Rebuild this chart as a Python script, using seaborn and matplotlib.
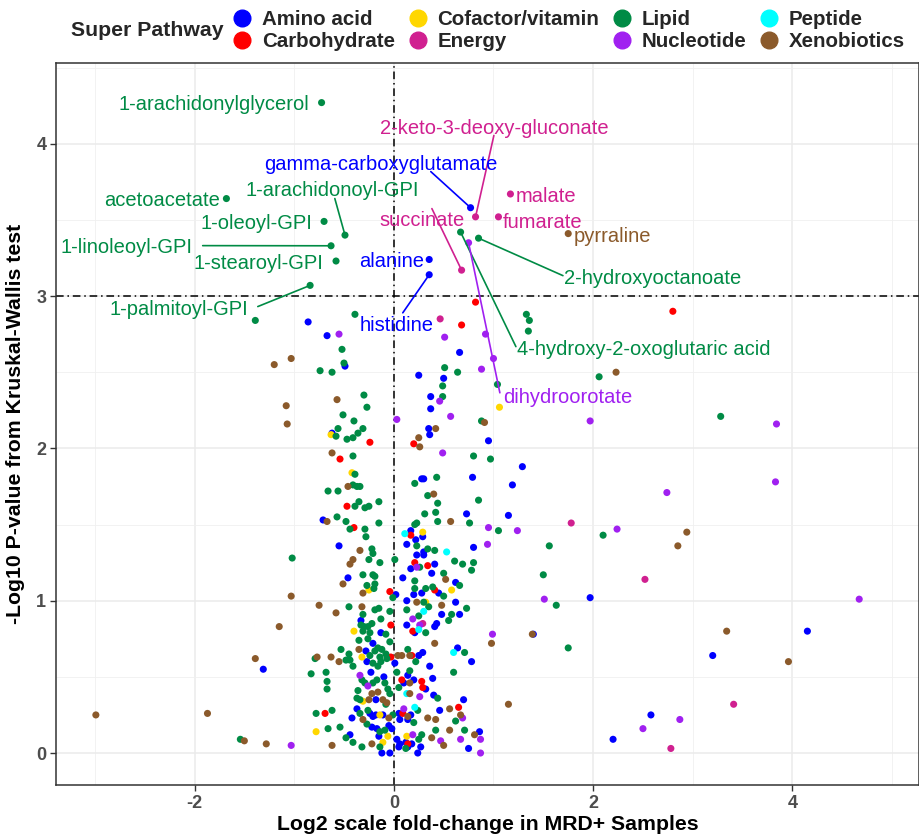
import matplotlib
matplotlib.use("Agg")
import matplotlib.pyplot as plt
from matplotlib.lines import Line2D
import seaborn as sns
import pandas as pd

pathways = ["Amino acid", "Carbohydrate", "Cofactor/vitamin", "Energy",
            "Lipid", "Nucleotide", "Peptide", "Xenobiotics"]
colors = ["#0000FF", "#FF0000", "#FFD700", "#D02090",
          "#008B45", "#A020F0", "#00FFFF", "#8B5A2B"]

# (log2 fold change, -log10 p), per super pathway
amino_acid = [
    (-0.86, 2.83), (-0.67, 2.74), (-0.49, 2.54), (-0.62, 2.10), (0.66, 2.63), (0.25, 2.48),
    (0.50, 2.46), (0.37, 2.34), (0.37, 2.26), (0.35, 2.13), (0.36, 2.09), (0.95, 2.05),
    (1.29, 1.88), (1.19, 1.76), (1.15, 1.56), (1.97, 1.02), (1.40, 0.78), (4.15, 0.80),
    (3.20, 0.64), (2.58, 0.25), (2.20, 0.09), (-1.31, 0.55), (0.28, 1.80), (0.30, 1.80),
    (0.79, 1.81), (0.73, 1.57), (-0.71, 1.53), (0.17, 1.46), (0.29, 1.42), (0.22, 1.40),
    (0.13, 1.37), (0.80, 1.35), (-0.55, 1.36), (0.30, 1.32), (0.30, 1.30), (0.23, 1.30),
    (0.41, 1.24), (0.17, 1.21), (0.38, 1.18), (-0.46, 1.15), (0.09, 1.15), (0.62, 1.12),
    (0.45, 1.05), (0.02, 1.04), (0.20, 1.04), (0.28, 1.05), (0.13, 1.00), (0.62, 0.99),
    (-0.33, 0.87), (0.48, 0.91), (0.66, 0.91), (0.43, 0.85), (0.41, 0.83), (0.13, 0.84),
    (0.21, 0.79), (-0.13, 0.79), (-0.21, 0.72), (-0.28, 0.67), (-0.27, 0.60), (0.01, 0.59),
    (-0.23, 0.53), (0.64, 0.69), (0.78, 0.60), (0.29, 0.66), (0.25, 0.64), (0.36, 0.57),
    (0.14, 0.51), (-0.10, 0.50), (-0.18, 0.35), (0.10, 0.46), (0.20, 0.48), (0.39, 0.49),
    (0.32, 0.42), (0.40, 0.38), (-0.37, 0.29), (-0.24, 0.26), (-0.18, 0.25), (-0.42, 0.23),
    (-0.21, 0.24), (-0.11, 0.25), (0.05, 0.26), (0.17, 0.25), (0.46, 0.28), (0.70, 0.35),
    (0.14, 0.22), (0.06, 0.22), (-0.22, 0.17), (-0.17, 0.16), (-0.05, 0.18), (-0.02, 0.16),
    (0.75, 0.03), (0.86, 0.14), (-0.12, 0.00), (-0.04, 0.00), (0.05, 0.04), (0.14, 0.04),
    (0.24, 0.00), (-0.44, 0.12), (-0.15, 0.11), (0.03, 0.09), (0.06, 0.06), (0.12, 0.07),
    (0.18, 0.06), (0.27, 0.04),
]
carbohydrate = [
    (0.68, 2.81), (0.82, 2.96), (-0.24, 2.04), (0.20, 2.03), (2.80, 2.90), (-0.54, 1.93),
    (-0.47, 1.62), (-0.40, 1.48), (0.17, 1.43), (0.21, 1.25), (0.34, 1.23), (0.41, 1.07),
    (-0.04, 1.06), (-0.03, 0.84), (0.19, 0.80), (-0.03, 0.63), (0.18, 0.64), (0.08, 0.48),
    (0.28, 0.47), (0.29, 0.43), (-0.69, 0.26), (0.09, 0.26), (0.65, 0.30), (0.14, 0.06),
]
cofactor_vitamin = [
    (-0.63, 2.09), (1.06, 2.27), (-0.42, 1.84), (0.29, 1.45), (-0.25, 1.07), (0.58, 1.07),
    (0.32, 0.99), (-0.40, 0.80), (-0.32, 0.63), (-0.31, 0.34), (-0.14, 0.25), (-0.78, 0.14),
    (-0.06, 0.11), (-0.11, 0.07), (0.13, 0.11),
]
energy = [
    (0.465, 2.85), (1.78, 1.51), (2.52, 1.14), (3.41, 0.32), (2.78, 0.03), (0.29, 0.85),
]
lipid = [
    (-1.39, 2.84), (-0.39, 2.88), (1.33, 2.88), (1.36, 2.84), (1.35, 2.77), (-0.52, 2.65),
    (-0.50, 2.56), (-0.74, 2.51), (-0.62, 2.50), (-0.30, 2.35), (-0.27, 2.27), (-0.51, 2.22),
    (-0.40, 2.18), (-0.56, 2.13), (-0.58, 2.08), (-0.47, 2.06), (-0.41, 2.07), (-0.36, 2.10),
    (-0.31, 2.13), (0.51, 2.53), (0.64, 2.50), (0.49, 2.41), (0.49, 2.34), (1.04, 2.42),
    (0.88, 2.18), (2.06, 2.47), (3.28, 2.21), (2.10, 1.43), (1.56, 1.36), (1.50, 1.17),
    (1.63, 0.97), (1.75, 0.69), (-1.02, 1.28), (-1.54, 0.09), (-0.41, 1.95), (0.80, 1.95),
    (0.97, 1.93), (-0.39, 1.83), (0.43, 1.81), (0.21, 1.77), (-0.41, 1.76), (-0.37, 1.75),
    (-0.34, 1.75), (-0.66, 1.72), (-0.56, 1.72), (0.34, 1.69), (0.44, 1.64), (0.85, 1.66),
    (-0.15, 1.65), (-0.35, 1.65), (-0.39, 1.62), (-0.29, 1.61), (-0.25, 1.62), (0.31, 1.57),
    (0.42, 1.58), (-0.57, 1.55), (-0.48, 1.52), (-0.15, 1.51), (0.21, 1.50), (0.23, 1.51),
    (0.44, 1.52), (0.76, 1.51), (1.05, 1.46), (-0.44, 1.47), (-0.29, 1.47), (-0.28, 1.42),
    (0.23, 1.36), (0.34, 1.34), (0.41, 1.33), (-0.22, 1.34), (-0.21, 1.31), (-0.25, 1.27),
    (-0.14, 1.25), (0.01, 1.27), (0.26, 1.22), (0.61, 1.26), (0.69, 1.24), (0.80, 1.25),
    (0.78, 1.20), (0.50, 1.18), (-0.31, 1.17), (-0.21, 1.17), (-0.19, 1.16), (0.21, 1.13),
    (0.66, 1.10), (-0.27, 1.10), (-0.19, 1.11), (-0.20, 1.08), (0.21, 1.08), (0.32, 1.08),
    (0.39, 1.09), (0.50, 1.03), (-0.01, 1.02), (0.30, 0.99), (0.35, 0.96), (0.73, 0.95),
    (-0.45, 0.96), (-0.15, 0.95), (-0.19, 0.94), (-0.04, 0.93), (-0.31, 0.91), (-0.13, 0.88),
    (-0.33, 0.84), (-0.30, 0.83), (-0.26, 0.83), (-0.22, 0.85), (0.13, 0.94), (0.25, 0.90),
    (0.58, 0.91), (0.55, 0.87), (0.32, 0.79), (-0.31, 0.80), (-0.24, 0.79), (-0.08, 0.78),
    (-0.35, 0.74), (-0.26, 0.75), (-0.04, 0.73), (-0.16, 0.69), (-0.53, 0.68), (-0.45, 0.65),
    (-0.44, 0.61), (-0.19, 0.67), (-0.12, 0.68), (-0.08, 0.65), (-0.24, 0.64), (-0.14, 0.63),
    (-0.07, 0.62), (-0.79, 0.62), (-0.48, 0.61), (-0.21, 0.59), (-0.13, 0.60), (-0.16, 0.57),
    (-0.41, 0.57), (-0.68, 0.53), (-0.83, 0.52), (0.71, 0.66), (0.14, 0.68), (0.22, 0.60),
    (0.03, 0.53), (0.16, 0.54), (0.60, 0.53), (-0.67, 0.47), (-0.67, 0.42), (-0.32, 0.48),
    (-0.29, 0.46), (-0.21, 0.46), (-0.17, 0.48), (-0.09, 0.46), (-0.06, 0.42), (-0.04, 0.39),
    (-0.36, 0.41), (-0.34, 0.35), (-0.37, 0.36), (0.05, 0.43), (0.44, 0.36), (-0.62, 0.28),
    (-0.78, 0.26), (-0.34, 0.26), (-0.26, 0.28), (-0.08, 0.32), (0.24, 0.28), (-0.01, 0.25),
    (0.62, 0.21), (0.20, 0.20), (-0.66, 0.16), (-0.54, 0.17), (-0.27, 0.19), (-0.14, 0.14),
    (-0.09, 0.15), (0.42, 0.15), (0.71, 0.15), (-0.32, 0.04), (-0.14, 0.04), (-0.48, 0.10),
    (-0.41, 0.07), (0.28, 0.12), (0.25, 0.09), (0.12, 0.03),
]
nucleotide = [
    (-0.55, 2.75), (0.51, 2.73), (0.92, 2.75), (1.00, 2.59), (0.88, 2.52), (0.46, 2.31),
    (0.03, 2.19), (0.57, 2.21), (1.97, 2.18), (3.84, 2.16), (2.74, 1.71), (3.83, 1.78),
    (1.24, 1.46), (2.24, 1.47), (1.51, 1.01), (4.67, 1.01), (2.87, 0.22), (2.50, 0.16),
    (-1.03, 0.05), (0.49, 1.97), (0.95, 1.48), (0.94, 1.37), (0.23, 1.22), (0.19, 0.88),
    (0.26, 0.84), (0.99, 0.78), (-0.34, 0.51), (-0.26, 0.44), (0.26, 0.37), (0.10, 0.29),
    (0.69, 0.23), (0.47, 0.08), (0.67, 0.09), (0.87, 0.09), (0.87, 0.00), (0.19, 0.12),
]
peptide = [
    (0.11, 1.44), (0.53, 1.32), (0.30, 0.93), (0.25, 0.81), (0.60, 0.66), (0.13, 0.39),
    (0.21, 0.30),
]
xenobiotics = [
    (-0.57, 2.32), (0.91, 2.17), (0.42, 2.13), (0.25, 2.07), (0.26, 2.01), (2.23, 2.50),
    (-1.03, 2.59), (-1.20, 2.55), (-1.08, 2.28), (-1.07, 2.16), (2.94, 1.45), (2.85, 1.36),
    (1.39, 0.78), (3.34, 0.80), (3.96, 0.60), (1.15, 0.32), (-1.03, 1.03), (-1.15, 0.83),
    (-1.39, 0.62), (-2.99, 0.25), (-1.87, 0.26), (-1.50, 0.08), (-1.28, 0.06), (-0.62, 1.97),
    (-0.46, 1.75), (0.40, 1.70), (-0.67, 1.52), (0.57, 1.52), (-0.34, 1.33), (-0.41, 1.27),
    (-0.44, 1.24), (-0.51, 1.11), (0.52, 1.14), (-0.31, 1.05), (0.23, 0.99), (0.48, 0.97),
    (-0.75, 0.97), (-0.32, 0.96), (-0.58, 0.92), (0.98, 0.72), (-0.35, 0.68), (-0.63, 0.63),
    (-0.55, 0.60), (-0.77, 0.63), (0.41, 0.72), (0.08, 0.64), (0.16, 0.64), (0.04, 0.64),
    (-0.22, 0.39), (-0.16, 0.40), (-0.25, 0.35), (-0.11, 0.35), (-0.07, 0.33), (0.16, 0.46),
    (0.16, 0.39), (-0.31, 0.22), (-0.05, 0.23), (0.14, 0.24), (0.56, 0.29), (0.67, 0.25),
    (0.34, 0.23), (0.42, 0.22), (0.38, 0.10), (0.50, 0.05), (0.56, 0.15), (0.81, 0.12),
    (-0.62, 0.05), (-0.22, 0.06),
]

# named metabolites: name, pathway, log2 fold change, -log10 p
named = [
    ("1-arachidonylglycerol", "Lipid", -0.725, 4.27),
    ("acetoacetate", "Lipid", -1.68, 3.64),
    ("1-oleoyl-GPI", "Lipid", -0.70, 3.49),
    ("1-arachidonoyl-GPI", "Lipid", -0.49, 3.40),
    ("1-linoleoyl-GPI", "Lipid", -0.63, 3.33),
    ("1-stearoyl-GPI", "Lipid", -0.58, 3.23),
    ("1-palmitoyl-GPI", "Lipid", -0.84, 3.07),
    ("alanine", "Amino acid", 0.355, 3.24),
    ("histidine", "Amino acid", 0.355, 3.14),
    ("gamma-carboxyglutamate", "Amino acid", 0.77, 3.58),
    ("2-keto-3-deoxy-gluconate", "Energy", 0.82, 3.52),
    ("succinate", "Energy", 0.68, 3.17),
    ("malate", "Energy", 1.17, 3.67),
    ("fumarate", "Energy", 1.05, 3.52),
    ("4-hydroxy-2-oxoglutaric acid", "Lipid", 0.67, 3.42),
    ("2-hydroxyoctanoate", "Lipid", 0.85, 3.38),
    ("dihydroorotate", "Nucleotide", 0.75, 3.35),
    ("pyrraline", "Xenobiotics", 1.75, 3.41),
]

# where each label sits: text x, text y, alignment, end of the leader line
label_layout = {
    "1-arachidonylglycerol": (-0.853, 4.26, "right", None),
    "2-keto-3-deoxy-gluconate": (1.009, 4.10, "center", (1.004, 4.054)),
    "gamma-carboxyglutamate": (-0.13, 3.866, "center", (0.371, 3.817)),
    "acetoacetate": (-1.747, 3.63, "right", None),
    "1-arachidonoyl-GPI": (-0.622, 3.696, "center", (-0.592, 3.640)),
    "1-oleoyl-GPI": (-0.813, 3.479, "right", None),
    "1-linoleoyl-GPI": (-2.018, 3.321, "right", (-1.918, 3.331)),
    "1-stearoyl-GPI": (-0.703, 3.216, "right", None),
    "1-palmitoyl-GPI": (-1.456, 2.914, "right", (-1.365, 2.931)),
    "alanine": (0.301, 3.229, "right", None),
    "histidine": (0.025, 2.809, "center", (0.09, 2.89)),
    "succinate": (0.713, 3.498, "right", (0.382, 3.574)),
    "malate": (1.225, 3.656, "left", None),
    "fumarate": (1.094, 3.485, "left", None),
    "pyrraline": (1.807, 3.393, "left", None),
    "2-hydroxyoctanoate": (1.707, 3.117, "left", (1.697, 3.134)),
    "4-hydroxy-2-oxoglutaric acid": (1.235, 2.651, "left", (1.225, 2.668)),
    "dihydroorotate": (1.094, 2.336, "left", (1.064, 2.365)),
}

groups = dict(zip(pathways, [amino_acid, carbohydrate, cofactor_vitamin, energy,
                             lipid, nucleotide, peptide, xenobiotics]))
rows = [(p, fc, lp) for p, pts in groups.items() for fc, lp in pts]
rows += [(p, fc, lp) for _, p, fc, lp in named]
df = pd.DataFrame(rows, columns=["pathway", "fc", "logp"])
palette = dict(zip(pathways, colors))

sns.set_theme(style="white")
plt.rcParams["font.family"] = ["Liberation Sans", "DejaVu Sans"]
plt.rcParams["axes.unicode_minus"] = False

fig = plt.figure(figsize=(9.2, 8.36), dpi=100)
ax = fig.add_axes([56 / 920, 1 - 785 / 836, 863 / 920, 722 / 836])

sns.scatterplot(data=df, x="fc", y="logp", hue="pathway", hue_order=pathways,
                palette=palette, s=26, linewidth=0, legend=False, ax=ax, zorder=3)

ax.axvline(0, color="black", lw=1.1, dashes=(5, 2.5, 1, 2.5), zorder=2)
ax.axhline(3, color="black", lw=1.1, dashes=(5, 2.5, 1, 2.5), zorder=2)

for name, p, fc, lp in named:
    tx, ty, ha, seg = label_layout[name]
    c = palette[p]
    if seg is not None:
        ax.plot([fc, seg[0]], [lp, seg[1]], color=c, lw=1.2, zorder=4)
    ax.text(tx, ty, name, color=c, fontsize=14.5, ha=ha, va="center", zorder=5)

ax.set_xlim(-3.39, 5.27)
ax.set_ylim(-0.21, 4.53)
ax.set_xticks([-2, 0, 2, 4])
ax.set_yticks([0, 1, 2, 3, 4])
ax.set_xticks([-3, -1, 1, 3, 5], minor=True)
ax.set_yticks([0.5, 1.5, 2.5, 3.5, 4.5], minor=True)
ax.grid(which="major", color="#EBEBEB", lw=1.1)
ax.grid(which="minor", color="#F0F0F0", lw=0.6)
ax.set_axisbelow(True)
ax.tick_params(which="major", length=4, width=1, color="#333333", labelsize=13,
               labelcolor="#4D4D4D", bottom=True, left=True, pad=3)
ax.tick_params(which="minor", length=0)
for lab in ax.get_xticklabels() + ax.get_yticklabels():
    lab.set_fontweight("bold")
for sp in ax.spines.values():
    sp.set_color("#333333")
    sp.set_linewidth(1.1)

ax.set_xlabel("Log2 scale fold-change in MRD+ Samples", fontsize=15.3,
              fontweight="bold", color="black", labelpad=2)
ax.set_ylabel("-Log10 P-value from Kruskal-Wallis test", fontsize=15.3,
              fontweight="bold", color="black", labelpad=8)

handles = [Line2D([], [], marker="o", ls="", color=c, markersize=12) for c in colors]
fig.text(71 / 920, 1 - 31 / 836, "Super Pathway", fontsize=15.3, fontweight="bold",
         va="center", ha="left")
fig.legend(handles, pathways, ncol=4, loc="upper left",
           bbox_to_anchor=(234 / 920, 1 - 10 / 836), frameon=False,
           handlelength=0.8, handletextpad=0.55, columnspacing=0.72,
           labelspacing=0.15, borderpad=0, borderaxespad=0,
           prop={"weight": "bold", "size": 14.8})

fig.savefig("out.png", dpi=100)
